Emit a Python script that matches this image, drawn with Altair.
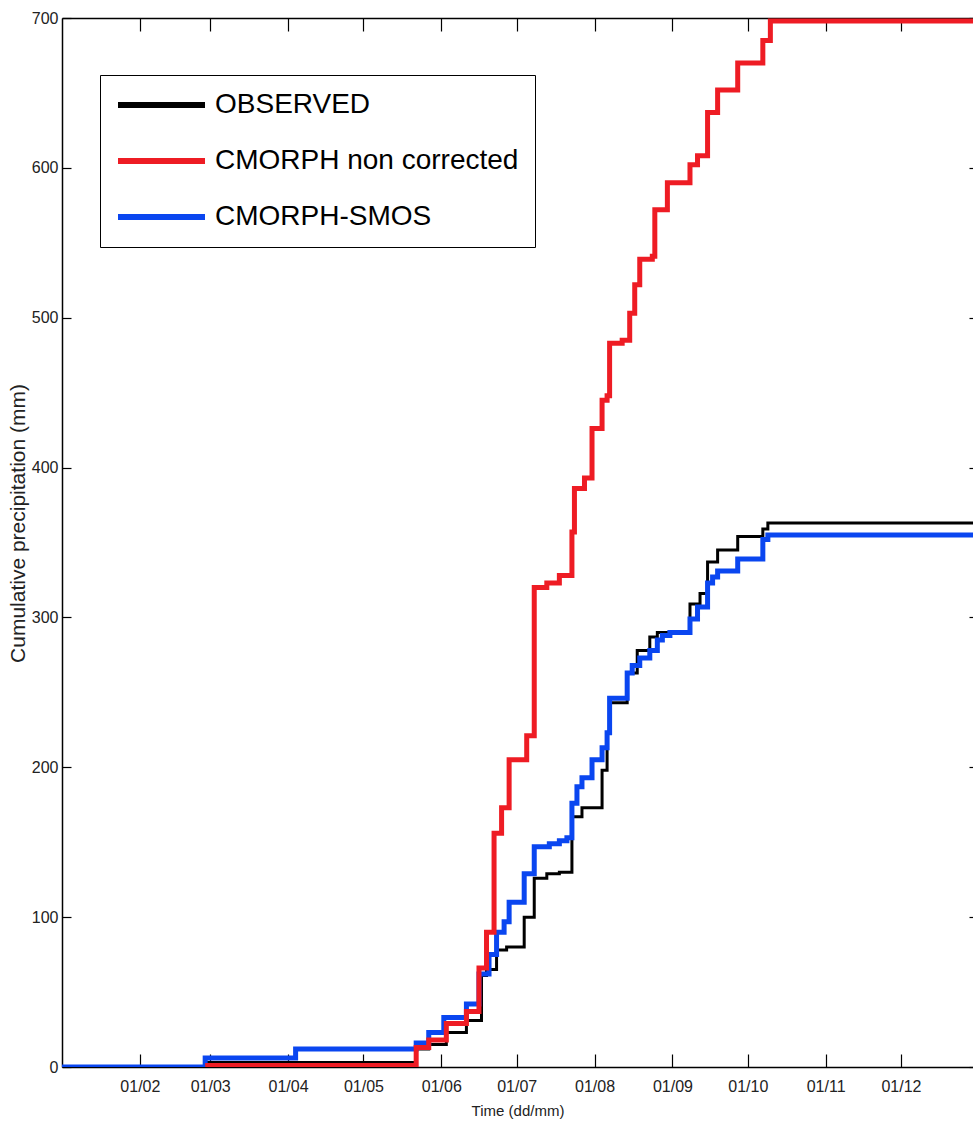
import altair as alt
import pandas as pd

# ---------------- data ----------------
SERIES = ["OBSERVED", "CMORPH non corrected", "CMORPH-SMOS"]
COLORS = ["#000000", "#ee1c24", "#0a46f0"]

obs_dates = ["01-01", "02-27", "05-22", "05-27", "06-03", "06-11", "06-17", "06-19",
             "06-23", "06-27", "07-04", "07-08", "07-13", "07-18", "07-23", "07-27",
             "08-04", "08-06", "08-07", "08-14", "08-18", "08-23", "08-26", "09-08",
             "09-12", "09-15", "09-19", "09-27", "10-07", "10-09", "12-31"]
obs_vals = [0, 3, 12, 15, 23, 31, 61, 65,
            78, 80, 100, 126, 129, 130, 167, 173,
            198, 223, 243, 263, 278, 287, 290, 309,
            316, 337, 345, 354, 359, 363, 363]

cmorph_dates = ["02-27", "05-22", "05-27", "06-03", "06-11", "06-16", "06-19", "06-22",
                "06-25", "06-28", "07-05", "07-08", "07-13", "07-18", "07-23", "07-24",
                "07-28", "07-31", "08-04", "08-06", "08-07", "08-12", "08-15", "08-17",
                "08-19", "08-24", "08-25", "08-30", "09-08", "09-11", "09-15", "09-19",
                "09-27", "10-07", "10-10", "12-31"]
cmorph_vals = [1, 13, 18, 29, 37, 66, 90, 156,
               173, 205, 221, 320, 323, 328, 357, 386,
               393, 426, 445, 448, 483, 485, 503, 522,
               539, 541, 572, 590, 602, 608, 637, 652,
               670, 685, 698, 698]

smos_dates = ["01-01", "02-27", "04-04", "05-22", "05-27", "06-02", "06-11", "06-16",
              "06-20", "06-23", "06-26", "06-28", "07-04", "07-08", "07-14", "07-18",
              "07-21", "07-23", "07-25", "07-27", "07-31", "08-04", "08-06", "08-07",
              "08-14", "08-16", "08-19", "08-23", "08-26", "08-28", "08-31", "09-08",
              "09-11", "09-15", "09-17", "09-19", "09-27", "10-07", "10-09", "12-31"]
smos_vals = [0, 6, 12, 16, 23, 33, 42, 62,
             75, 90, 97, 110, 129, 147, 149, 151,
             153, 176, 187, 193, 205, 213, 223, 246,
             263, 268, 273, 278, 285, 288, 290, 299,
             307, 323, 327, 331, 339, 352, 355, 355]

YEAR = 2011
X_TICK_MONTHS = [2, 3, 4, 5, 6, 7, 8, 9, 10, 11, 12]
Y_TICKS = [0, 100, 200, 300, 400, 500, 600, 700]

# ---------------- table ----------------
rows = []
for name, dates, vals in [(SERIES[0], obs_dates, obs_vals),
                          (SERIES[1], cmorph_dates, cmorph_vals),
                          (SERIES[2], smos_dates, smos_vals)]:
    for d, v in zip(dates, vals):
        rows.append({"series": name, "date": f"{YEAR}-{d}T00:00:00", "value": v})
df = pd.DataFrame(rows)

FONT = "Liberation Sans, Arial, Helvetica, sans-serif"

x_scale = alt.Scale(domain=[alt.DateTime(year=YEAR, month=1, date=1),
                            alt.DateTime(year=YEAR, month=12, date=29, hours=16)])
y_scale = alt.Scale(domain=[0, 700], nice=False, zero=True)
tick_dates = [alt.DateTime(year=YEAR, month=m, date=1) for m in X_TICK_MONTHS]

color = alt.Color(
    "series:N",
    title=None,
    scale=alt.Scale(domain=SERIES, range=COLORS),
    sort=SERIES,
    legend=alt.Legend(
        orient="none", legendX=38, legendY=57, padding=16,
        fillColor="white", strokeColor="black",
        labelFont=FONT, labelFontSize=28, labelColor="black",
        labelLimit=0, labelOffset=71,
        symbolType="M-1.2,0L7.5,0", symbolSize=400, symbolStrokeWidth=6,
        rowPadding=28,
    ),
)

x_main = alt.X("date:T", scale=x_scale, axis=alt.Axis(
    orient="bottom", values=tick_dates, format="%d/%m", formatType="time",
    ticks=False, domain=True, domainColor="black", domainWidth=1.5, grid=False,
    labelFont=FONT, labelFontSize=16, labelColor="#222", labelPadding=11,
    labelFlush=False,
    title="Time (dd/mm)", titleFont=FONT, titleFontSize=15, titleFontWeight="normal",
    titleColor="#222", titleY=36))
y_main = alt.Y("value:Q", scale=y_scale, axis=alt.Axis(
    orient="left", values=Y_TICKS, ticks=False, domain=True, domainColor="black",
    domainWidth=1.5, grid=False,
    labelFont=FONT, labelFontSize=16, labelColor="#222", labelPadding=4,
    title="Cumulative precipitation (mm)", titleFont=FONT, titleFontSize=21,
    titleFontWeight="normal", titleColor="#222", titleX=-44, titleY=505,
    titleBaseline="middle"))

base = alt.Chart(df)

# inward tick layers (axes only, invisible marks)
def tick_layer(xorient, xoff, xsize, yorient, yoff, ysize):
    return base.mark_line(strokeOpacity=0).encode(
        x=alt.X("date:T", scale=x_scale, title=None, axis=alt.Axis(
            orient=xorient, offset=xoff, values=tick_dates, ticks=True, tickSize=xsize,
            tickColor="black", tickWidth=1.2, domain=False, labels=False, grid=False)),
        y=alt.Y("value:Q", scale=y_scale, title=None, axis=alt.Axis(
            orient=yorient, offset=yoff, values=Y_TICKS, ticks=True, tickSize=ysize,
            tickColor="black", tickWidth=1.2, domain=False, labels=False, grid=False)),
    )

ticks_bl = tick_layer("bottom", -13, 13, "left", -9, 9)
ticks_tr = tick_layer("top", -13, 13, "right", -4, 4)
top_frame = base.mark_line(strokeOpacity=0).encode(
    x=alt.X("date:T", scale=x_scale, title=None, axis=alt.Axis(
        orient="top", ticks=False, labels=False, domain=True, domainColor="black",
        domainWidth=1.5, grid=False)),
    y=alt.Y("value:Q", scale=y_scale, axis=None),
)

obs_layer = base.transform_filter(alt.datum.series == SERIES[0]).mark_line(
    interpolate="step-after", clip=True).encode(
    x=x_main, y=y_main, color=color, strokeWidth=alt.value(3))

def series_layer(name, width):
    return base.transform_filter(alt.datum.series == name).mark_line(
        interpolate="step-after", clip=True).encode(
        x=alt.X("date:T", scale=x_scale, axis=None),
        y=alt.Y("value:Q", scale=y_scale, axis=None),
        color=color, strokeWidth=alt.value(width))

smos_layer = series_layer(SERIES[2], 5)
cmorph_layer = series_layer(SERIES[1], 5)

chart = alt.layer(
    ticks_bl, ticks_tr, top_frame, obs_layer, smos_layer, cmorph_layer
).resolve_axis(x="independent", y="independent").properties(
    width=911, height=1049,
    autosize=alt.AutoSizeParams(type="none"),
    padding={"left": 62, "top": 18, "right": 0, "bottom": 56},
).configure_view(strokeWidth=0).configure_legend(strokeWidth=2.5).configure(background="white")

chart.save("out.html", embed_options={"renderer": "svg", "actions": False})
